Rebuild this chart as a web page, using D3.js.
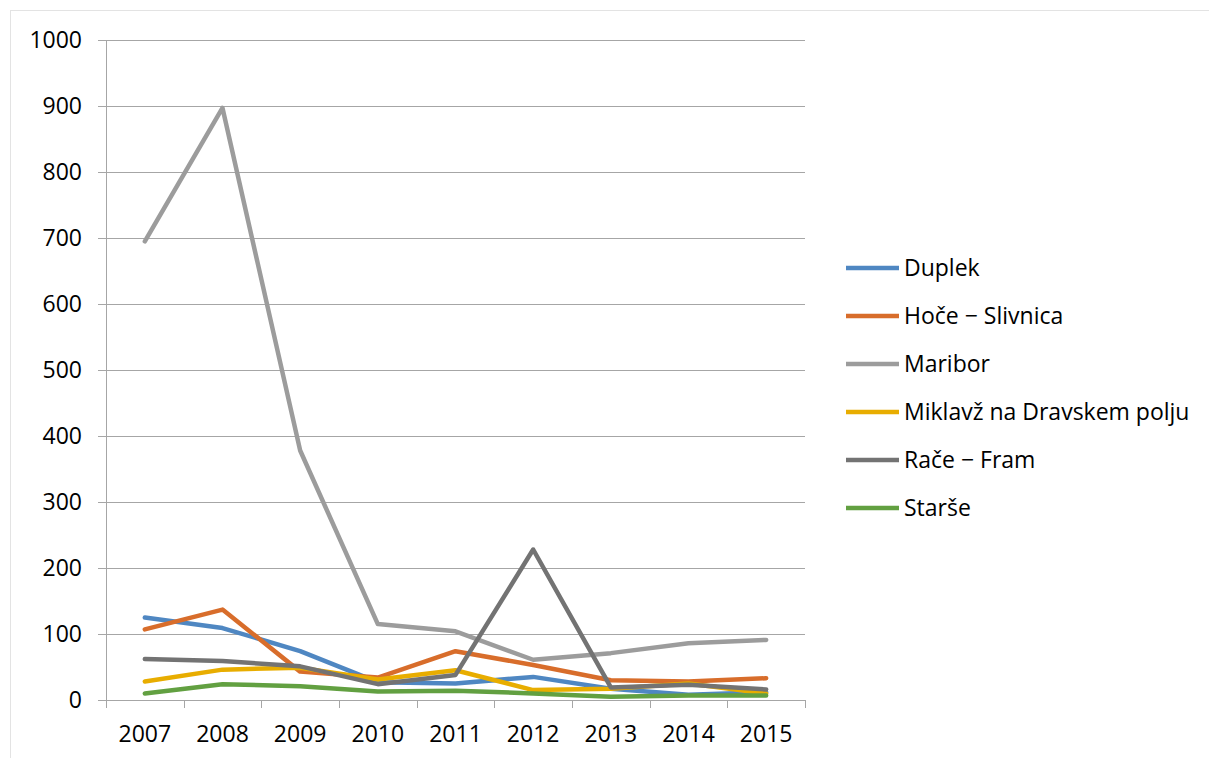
<!DOCTYPE html>
<html><head><meta charset="utf-8">
<script src="https://cdn.jsdelivr.net/npm/d3@7"></script>
<style>body{margin:0;background:#fff;}svg{display:block;}</style>
</head><body>
<svg id="c" width="1209" height="758"></svg>
<script>
const years = ["2007","2008","2009","2010","2011","2012","2013","2014","2015"];
const seriesNames = ["Duplek","Hoče − Slivnica","Maribor","Miklavž na Dravskem polju","Rače − Fram","Starše"];
const duplek  = [125,109,74,27,25,35,17,8,12];
const hoce    = [107,137,43,34,74,53,30,28,33];
const maribor = [695,897,378,115,104,61,71,86,91];
const miklavz = [28,46,49,31,45,15,17,25,10];
const race    = [62,59,51,24,38,228,19,23,16];
const starse  = [10,24,21,13,14,10,5,7,7];
const yTicks = [0,100,200,300,400,500,600,700,800,900,1000];
const colors = ["#4f87c2","#d86d2b","#9c9c9c","#e8ad00","#737373","#62a041"];
const allSeries = [duplek,hoce,maribor,miklavz,race,starse];

const svg = d3.select("#c");
const font = "'Open Sans', 'Liberation Sans', Arial, sans-serif";
svg.append("rect").attr("x",10.5).attr("y",10.5).attr("width",1300).attr("height",900)
  .attr("fill","#fff").attr("stroke","#e3e3e3");

const x = d3.scaleBand().domain(years).range([106,805]);
const y = d3.scaleLinear().domain([0,1000]).range([700,40]);

// gridlines
svg.append("g").selectAll("line").data(yTicks).join("line")
  .attr("x1",98).attr("x2",805)
  .attr("y1",d=>Math.round(y(d))+0.5).attr("y2",d=>Math.round(y(d))+0.5)
  .attr("stroke","#a6a6a6").attr("stroke-width",1);
// y axis line
svg.append("line").attr("x1",106.5).attr("x2",106.5).attr("y1",40).attr("y2",700)
  .attr("stroke","#a6a6a6");
// x tick marks
const bounds = years.map(d=>x(d)).concat([805]);
svg.append("g").selectAll("line").data(bounds).join("line")
  .attr("x1",d=>Math.round(d)+0.5).attr("x2",d=>Math.round(d)+0.5)
  .attr("y1",700).attr("y2",708).attr("stroke","#a6a6a6");

// y labels
svg.append("g").selectAll("text").data(yTicks).join("text")
  .attr("x",82).attr("y",d=>y(d)).attr("dy","0.36em")
  .attr("text-anchor","end").attr("font-family",font).attr("font-size",23).attr("fill","#000")
  .text(d=>d);
// x labels
svg.append("g").selectAll("text").data(years).join("text")
  .attr("x",d=>x(d)+x.bandwidth()/2).attr("y",742)
  .attr("text-anchor","middle").attr("font-family",font).attr("font-size",23).attr("fill","#000")
  .text(d=>d);

const line = d3.line().x((d,i)=>x(years[i])+x.bandwidth()/2).y(d=>y(d));
svg.append("g").selectAll("path").data(allSeries).join("path")
  .attr("d",d=>line(d)).attr("fill","none")
  .attr("stroke",(d,i)=>colors[i]).attr("stroke-width",4.5)
  .attr("stroke-linejoin","round").attr("stroke-linecap","round");

// legend
const lg = svg.append("g").selectAll("g").data(seriesNames).join("g")
  .attr("transform",(d,i)=>`translate(0,${268+i*48})`);
lg.append("line").attr("x1",846).attr("x2",899).attr("y1",0).attr("y2",0)
  .attr("stroke",(d,i)=>colors[i]).attr("stroke-width",4.5);
lg.append("text").attr("x",904).attr("y",0).attr("dy","0.36em")
  .attr("font-family",font).attr("font-size",23).attr("fill","#000").text(d=>d);
</script>
</body></html>
